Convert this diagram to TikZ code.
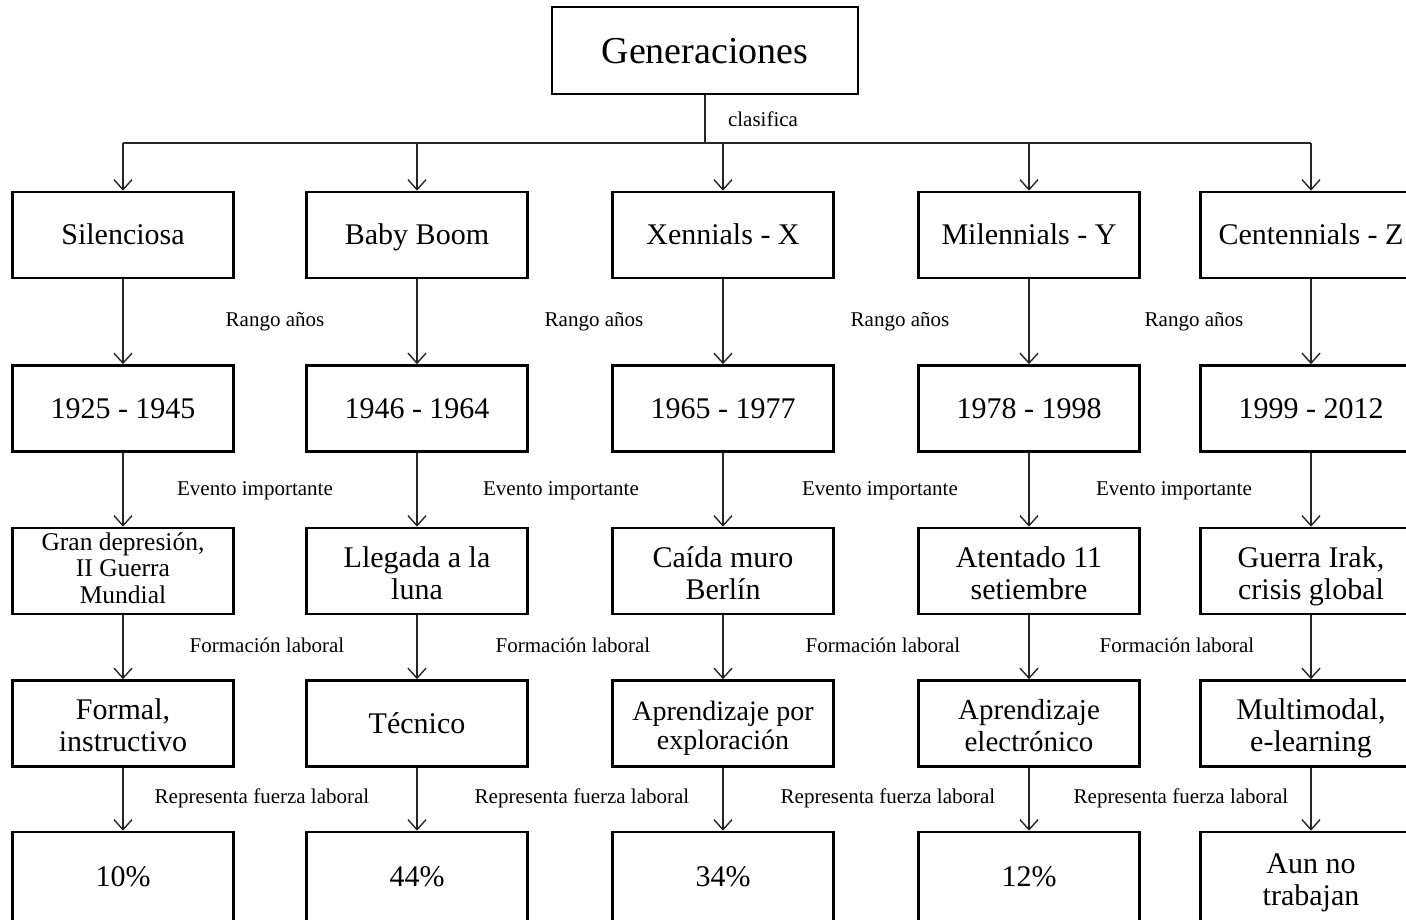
\documentclass[tikz,border=0pt]{standalone}
\usepackage{fontspec}
\setmainfont{Liberation Serif}
\usetikzlibrary{arrows.meta}

% strut that centres the cap height of a line inside its box
\newcommand\capstrut{\rule[-0.25em]{0pt}{1.16em}}
% taller first-line strut for stacked texts (sets them a little lower)
\newcommand\firststrut{\rule[-0.25em]{0pt}{1.33em}}

\tikzset{
  gbox/.style={draw=black, line width=2.6pt, minimum width=221pt, minimum height=86pt,
    inner sep=0pt, align=center, font=\fontsize{30}{32}\selectfont,
    execute at begin node=\capstrut, execute at end node=\capstrut},
  conn/.style={draw=black!85, line width=1.4pt},
  arr/.style={conn, -{Straight Barb[length=10pt, width=18pt, line width=1.4pt]}},
  lbl/.style={inner sep=0pt, anchor=base, font=\fontsize{21}{23}\selectfont},
}

\begin{document}
\begin{tikzpicture}[x=1pt, y=-1pt]
\useasboundingbox (0,0) rectangle (1406,919);
\clip (0,0) rectangle (1406,919);

% root
\node[gbox, minimum width=306pt, minimum height=87pt, font=\fontsize{38}{40}\selectfont]
  (top) at (705,50.5) {Generaciones};

% generations
\node[gbox] (g1) at (123,235) {Silenciosa};
\node[gbox] (g2) at (417,235) {Baby Boom};
\node[gbox] (g3) at (723,235) {Xennials - X};
\node[gbox] (g4) at (1029,235) {Milennials - Y};
\node[gbox] (g5) at (1311,235) {Centennials - Z};

% year ranges
\node[gbox] (y1) at (123,408.5) {1925 - 1945};
\node[gbox] (y2) at (417,408.5) {1946 - 1964};
\node[gbox] (y3) at (723,408.5) {1965 - 1977};
\node[gbox] (y4) at (1029,408.5) {1978 - 1998};
\node[gbox] (y5) at (1311,408.5) {1999 - 2012};

% key events
\node[gbox, font=\fontsize{25.5}{26.5}\selectfont] (e1) at (123,571) {Gran depresión,\\II Guerra\\Mundial};
\node[gbox] (e2) at (417,571) {\firststrut Llegada a la\\luna};
\node[gbox] (e3) at (723,571) {\firststrut Caída muro\\Berlín};
\node[gbox] (e4) at (1029,571) {\firststrut Atentado 11\\setiembre};
\node[gbox] (e5) at (1311,571) {\firststrut Guerra Irak,\\crisis global};

% training
\node[gbox] (f1) at (123,723.5) {\firststrut Formal,\\instructivo};
\node[gbox] (f2) at (417,723.5) {Técnico};
\node[gbox, font=\fontsize{28}{29}\selectfont] (f3) at (723,723.5) {\firststrut Aprendizaje por\\exploración};
\node[gbox, font=\fontsize{29}{32}\selectfont] (f4) at (1029,723.5) {\firststrut Aprendizaje\\electrónico};
\node[gbox] (f5) at (1311,723.5) {\firststrut Multimodal,\\e-learning};

% share of workforce (boxes run past the lower edge)
\tikzset{pbox/.style={gbox, minimum height=90pt}}
\node[pbox] (p1) at (123,877) {10\%};
\node[pbox] (p2) at (417,877) {44\%};
\node[pbox] (p3) at (723,877) {34\%};
\node[pbox] (p4) at (1029,877) {12\%};
\node[pbox] (p5) at (1311,877) {\firststrut Aun no\\trabajan};

% root to bar
\coordinate (hub) at (705,143);
\draw[conn] (top.south) -- (hub);
\draw[conn] (hub -| g1.north) -- (hub -| g5.north);
\foreach \g in {g1,g2,g3,g4,g5}
  \draw[arr] (hub -| \g.north) -- (\g.north);
\node[lbl] (lclas) at (763,126.5) {clasifica};

% column chains
\foreach \i in {1,...,5} {
  \draw[arr] (g\i.south) -- (y\i.north);
  \draw[arr] (y\i.south) -- (e\i.north);
  \draw[arr] (e\i.south) -- (f\i.north);
  \draw[arr] (f\i.south) -- (p\i.north);
}

% connector labels
\node[lbl] (r1) at (275,326.5) {Rango años};
\node[lbl] (r2) at (594,326.5) {Rango años};
\node[lbl] (r3) at (900,326.5) {Rango años};
\node[lbl] (r4) at (1194,326.5) {Rango años};

\node[lbl] (v1) at (255,495) {Evento importante};
\node[lbl] (v2) at (561,495) {Evento importante};
\node[lbl] (v3) at (880,495) {Evento importante};
\node[lbl] (v4) at (1174,495) {Evento importante};

\node[lbl] (t1) at (267,652.5) {Formación laboral};
\node[lbl] (t2) at (573,652.5) {Formación laboral};
\node[lbl] (t3) at (883,652.5) {Formación laboral};
\node[lbl] (t4) at (1177,652.5) {Formación laboral};

\node[lbl] (w1) at (262,803) {Representa fuerza laboral};
\node[lbl] (w2) at (582,803) {Representa fuerza laboral};
\node[lbl] (w3) at (888,803) {Representa fuerza laboral};
\node[lbl] (w4) at (1181,803) {Representa fuerza laboral};
\end{tikzpicture}
\end{document}
